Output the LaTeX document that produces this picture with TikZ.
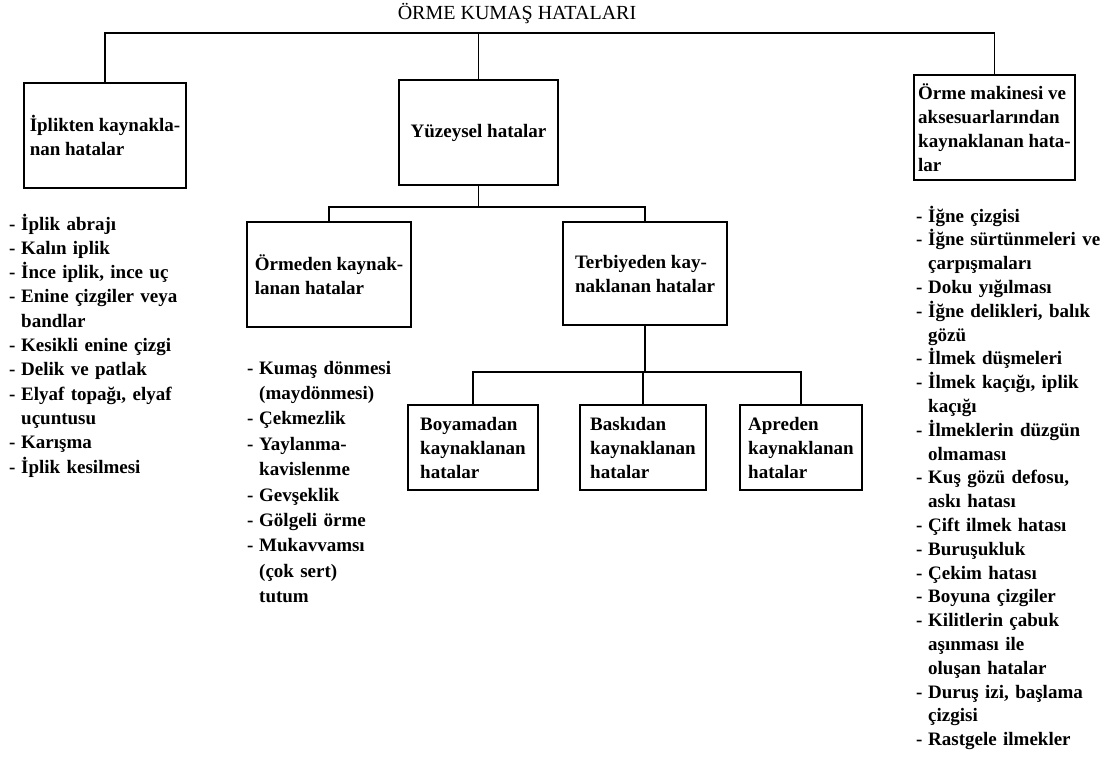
\documentclass[tikz,border=0pt]{standalone}
\usepackage{fontspec}
\setmainfont{Liberation Serif}
\newcommand{\tire}{\makebox[12bp][l]{-}}
\newcommand{\girinti}{\hspace*{12bp}}
\tikzset{
  kutu/.style={draw, line width=1.7bp, align=left, font=\fontsize{19bp}{24bp}\selectfont\bfseries},
  liste/.style={anchor=base west, align=left, inner sep=0pt, text width=#1},
  cizgi/.style={line width=1.7bp}
}
\begin{document}
\begin{tikzpicture}[x=1bp, y=-1bp]
\useasboundingbox (0,0) rectangle (1105,764);

\node[font=\fontsize{20bp}{24bp}\selectfont, anchor=base] (baslik) at (517,20) {ÖRME KUMAŞ HATALARI};

\node[kutu, minimum width=162bp, minimum height=105bp] (iplik) at (105,135.5) {İplikten kaynakla-\\nan hatalar};
\node[kutu, minimum width=159bp, minimum height=105bp] (yuzey) at (478.5,132.5) {Yüzeysel hatalar};
\node[kutu, minimum width=161bp, minimum height=105bp] (makine) at (994.5,127.5) {Örme makinesi ve\\aksesuarlarından\\kaynaklanan hata-\\lar};

\node[kutu, minimum width=164bp, minimum height=105bp] (ormeden) at (329,274.5) {Örmeden kaynak-\\lanan hatalar};
\node[kutu, minimum width=164bp, minimum height=103bp] (terbiye) at (645,273.5) {Terbiyeden kay-\\naklanan hatalar};

\node[kutu, minimum width=130bp, minimum height=85bp] (boya) at (473,447.5) {Boyamadan\\kaynaklanan\\hatalar};
\node[kutu, minimum width=126bp, minimum height=85bp] (baski) at (643,447.5) {Baskıdan\\kaynaklanan\\hatalar};
\node[kutu, minimum width=122bp, minimum height=85bp] (apre) at (801,447.5) {Apreden\\kaynaklanan\\hatalar};

% baglanti cizgileri
\coordinate (ust) at (0,33);
\coordinate (orta) at (0,207);
\coordinate (alt) at (0,372);
\draw[cizgi] (iplik.north) -- (iplik.north |- ust) -- (makine.north |- ust) -- (makine.north);
\draw[cizgi] (yuzey.north) -- (yuzey.north |- ust);
\draw[cizgi] (yuzey.south) -- (yuzey.south |- orta);
\draw[cizgi] (ormeden.north) -- (ormeden.north |- orta) -- (terbiye.north |- orta) -- (terbiye.north);
\draw[cizgi] (terbiye.south) -- (terbiye.south |- alt);
\draw[cizgi] (boya.north) -- (boya.north |- alt) -- (apre.north |- alt) -- (apre.north);
\draw[cizgi] (baski.north) -- (baski.north |- alt);

% hata listeleri
\node[liste=200bp, font=\fontsize{19bp}{24.3bp}\selectfont\bfseries] (liste1) at (9,230) {%
\tire İplik abrajı\\
\tire Kalın iplik\\
\tire İnce iplik, ince uç\\
\tire Enine çizgiler veya\\
\girinti bandlar\\
\tire Kesikli enine çizgi\\
\tire Delik ve patlak\\
\tire Elyaf topağı, elyaf\\
\girinti uçuntusu\\
\tire Karışma\\
\tire İplik kesilmesi};

\node[liste=170bp, font=\fontsize{19bp}{25.4bp}\selectfont\bfseries] (liste2) at (247,374) {%
\tire Kumaş dönmesi\\
\girinti (maydönmesi)\\
\tire Çekmezlik\\
\tire Yaylanma-\\
\girinti kavislenme\\
\tire Gevşeklik\\
\tire Gölgeli örme\\
\tire Mukavvamsı\\
\girinti (çok sert)\\
\girinti tutum};

\node[liste=188bp, font=\fontsize{19bp}{23.8bp}\selectfont\bfseries] (liste3) at (916,222) {%
\tire İğne çizgisi\\
\tire İğne sürtünmeleri ve\\
\girinti çarpışmaları\\
\tire Doku yığılması\\
\tire İğne delikleri, balık\\
\girinti gözü\\
\tire İlmek düşmeleri\\
\tire İlmek kaçığı, iplik\\
\girinti kaçığı\\
\tire İlmeklerin düzgün\\
\girinti olmaması\\
\tire Kuş gözü defosu,\\
\girinti askı hatası\\
\tire Çift ilmek hatası\\
\tire Buruşukluk\\
\tire Çekim hatası\\
\tire Boyuna çizgiler\\
\tire Kilitlerin çabuk\\
\girinti aşınması ile\\
\girinti oluşan hatalar\\
\tire Duruş izi, başlama\\
\girinti çizgisi\\
\tire Rastgele ilmekler};
\end{tikzpicture}
\end{document}
